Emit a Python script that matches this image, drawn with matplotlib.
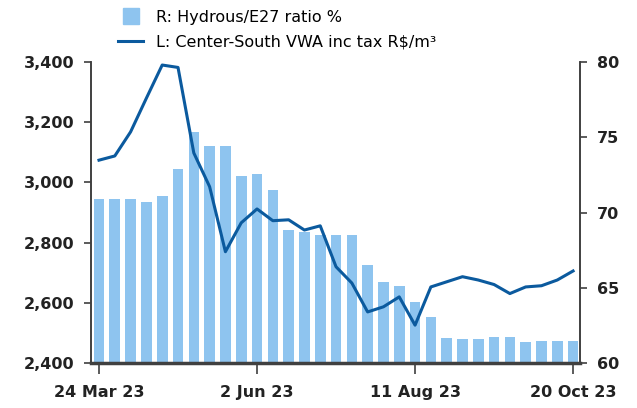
import matplotlib
matplotlib.use("Agg")
import matplotlib.pyplot as plt
import matplotlib.dates as mdates
import numpy as np
import pandas as pd
from matplotlib.lines import Line2D

dates = pd.date_range("2023-03-24", "2023-10-20", freq="7D")
ratio_pct = [70.87, 70.93, 70.93, 70.73, 71.13, 72.87, 75.33, 74.4, 74.4, 72.4,
             72.53, 71.53, 68.87, 68.73, 68.53, 68.53, 68.53, 66.53, 65.4, 65.13,
             64.07, 63.07, 61.67, 61.6, 61.6, 61.73, 61.73, 61.4, 61.47, 61.47, 61.47]
vwa_price = [3074, 3088, 3168, 3280, 3390, 3382, 3098, 2986, 2770, 2866,
             2912, 2873, 2876, 2842, 2856, 2720, 2666, 2570, 2587, 2620,
             2526, 2653, 2670, 2687, 2676, 2661, 2631, 2653, 2657, 2676, 2706]
tick_dates = ["2023-03-24", "2023-06-02", "2023-08-11", "2023-10-20"]
tick_labels = ["24 Mar 23", "2 Jun 23", "11 Aug 23", "20 Oct 23"]

bar_color = "#8ec4ef"
line_color = "#0b5a9e"
axis_color = "#404040"

plt.rcParams['font.family'] = ['DejaVu Sans']
fig = plt.figure(figsize=(6.37, 4.08), dpi=100)
axL = fig.add_axes([0.143, 0.110, 0.768, 0.738])
axR = axL.twinx()

axR.bar(dates, ratio_pct, width=4.7, color=bar_color, zorder=1)
axR.set_ylim(60, 80)
axR.set_yticks([60, 65, 70, 75, 80])

axL.set_zorder(axR.get_zorder() + 1)
axL.patch.set_visible(False)
axL.plot(dates, vwa_price, color=line_color, lw=2.2, zorder=3)
axL.set_ylim(2400, 3400)
axL.set_yticks([2400, 2600, 2800, 3000, 3200, 3400])
axL.yaxis.set_major_formatter(matplotlib.ticker.FuncFormatter(lambda v, p: f"{int(v):,}"))

axL.set_xlim(pd.Timestamp("2023-03-24") - pd.Timedelta(days=3.5),
             pd.Timestamp("2023-10-20") + pd.Timedelta(days=3.2))
axL.set_xticks(pd.to_datetime(tick_dates))
axL.set_xticklabels(tick_labels)

for ax in (axL, axR):
    ax.spines['top'].set_visible(False)
    for s in ('left', 'right', 'bottom'):
        ax.spines[s].set_color(axis_color)
        ax.spines[s].set_linewidth(1.2)
    ax.tick_params(axis='both', colors=axis_color, labelcolor='#222222',
                   labelsize=11.5, width=1.2)
    for lab in ax.get_yticklabels() + ax.get_xticklabels():
        lab.set_fontweight('bold')
axL.spines['bottom'].set_linewidth(2.5)
axL.tick_params(axis='y', length=5, pad=7)
axR.tick_params(axis='y', length=5, pad=7)
axL.tick_params(axis='x', length=8, pad=8)

handles = [Line2D([0], [0], marker='s', linestyle='none', markersize=12,
                  markerfacecolor=bar_color, markeredgecolor=bar_color),
           Line2D([0], [0], color=line_color, lw=2.2)]
labels = ["R: Hydrous/E27 ratio %", "L: Center-South VWA inc tax R$/m³"]
fig.legend(handles, labels, loc='upper left', bbox_to_anchor=(0.17, 1.0),
           frameon=False, fontsize=11.5, handlelength=1.6, handletextpad=0.8,
           labelspacing=0.65, borderaxespad=0.2)

fig.savefig("out.png", dpi=100)
